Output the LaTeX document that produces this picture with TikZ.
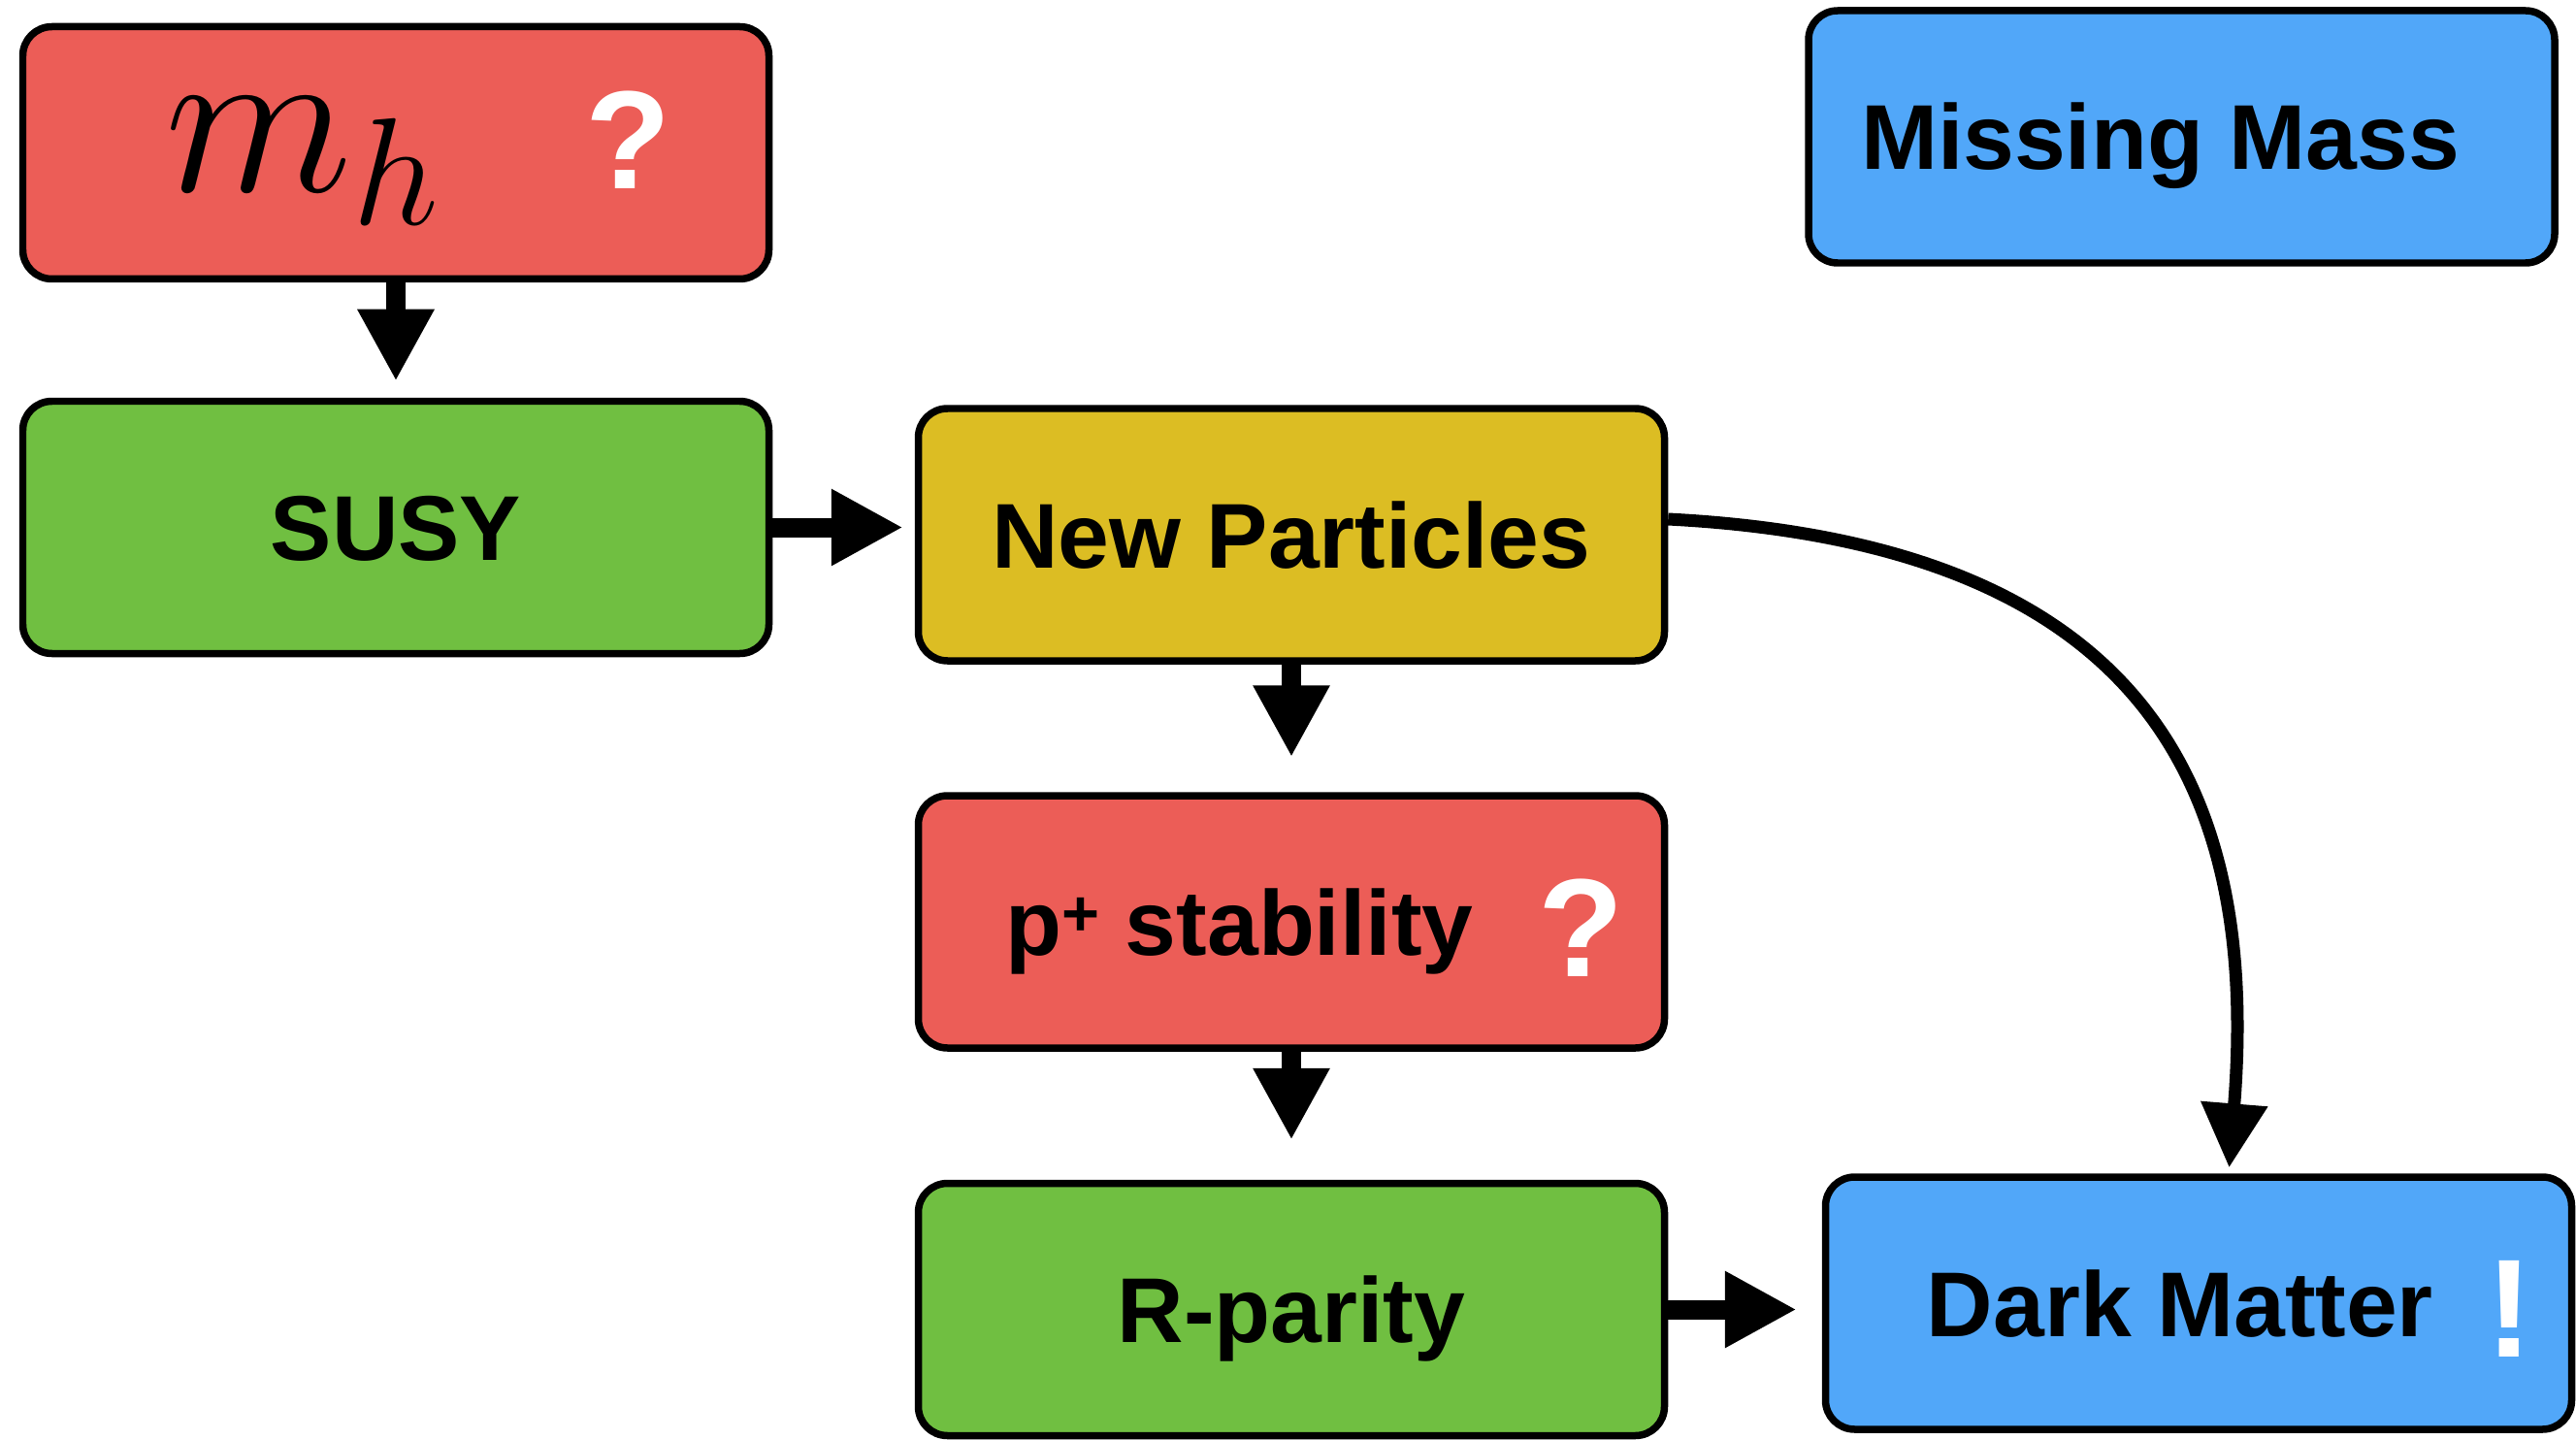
\RequirePackage{fix-cm}
\documentclass[tikz,border=0pt]{standalone}
\usepackage{fontspec}
\setmainfont{Liberation Sans}
\usetikzlibrary{arrows.meta}
\definecolor{warnred}{HTML}{EC5D57}
\definecolor{okgreen}{HTML}{70BF41}
\definecolor{ochre}{HTML}{DCBD23}
\definecolor{skyblue}{HTML}{51A7F9}
\tikzset{
  stage/.style={draw=black,line width=.075cm,rounded corners=.3cm,
    minimum width=7.69cm,minimum height=2.6cm,inner sep=0pt,
    text height=.68cm,text depth=0pt,font=\bfseries\fontsize{27}{30}\selectfont},
  qmark/.style={text=white,inner sep=0pt,anchor=base,
    font=\bfseries\fontsize{41}{44}\selectfont},
  flow/.style={line width=.2cm,-{Triangle[length=.74cm,width=.74cm]}},
  swoop/.style={line width=.13cm,-{Triangle[length=.66cm,width=.66cm]}}}

\begin{document}
\begin{tikzpicture}
\useasboundingbox (0,0) rectangle (26.55,-14.84);
% boxes
\node[stage,fill=warnred,font=\fontsize{64}{66}\selectfont,text height=.81cm] (mh) at (4.08,-1.575) {$m_h$\hspace*{1.92cm}};
\node[stage,fill=okgreen] (susy) at (4.08,-5.435) {SUSY};
\node[stage,fill=ochre] (newp) at (13.31,-5.51) {New Particles};
\node[stage,fill=warnred] (pstab) at (13.31,-9.50) {p\raisebox{.2cm}{\fontsize{19}{19}\selectfont+} stability\hspace*{1.07cm}};
\node[stage,fill=okgreen] (rpar) at (13.31,-13.495) {R-parity};
\node[stage,fill=skyblue] (miss) at (22.485,-1.41) {Missing Mass\hspace*{.44cm}};
\node[stage,fill=skyblue] (dm) at (22.66,-13.43) {Dark Matter\hspace*{.38cm}};
\node[qmark] (mhq) at (6.475,-1.95) {?};
\node[qmark] (pq) at (16.295,-10.06) {?};
\node[qmark] (dmx) at (25.86,-13.98) {!};
% arrows
\draw[flow,shorten >=.17cm] (mh) -- (susy);
\draw[flow,shorten >=.12cm] (susy.east) -- (susy.east -| newp.west);
\draw[flow,shorten >=.36cm] (newp) -- (pstab);
\draw[flow,shorten >=.41cm] (pstab) -- (rpar);
\draw[flow,shorten >=.26cm] (rpar.east) -- (rpar.east -| dm.west);
\draw[swoop,shorten >=.06cm] ([yshift=.16cm]newp.east) .. controls (22.0,-5.6) and (23.3,-8.0) .. ([xshift=.31cm]dm.north);
\end{tikzpicture}
\end{document}
